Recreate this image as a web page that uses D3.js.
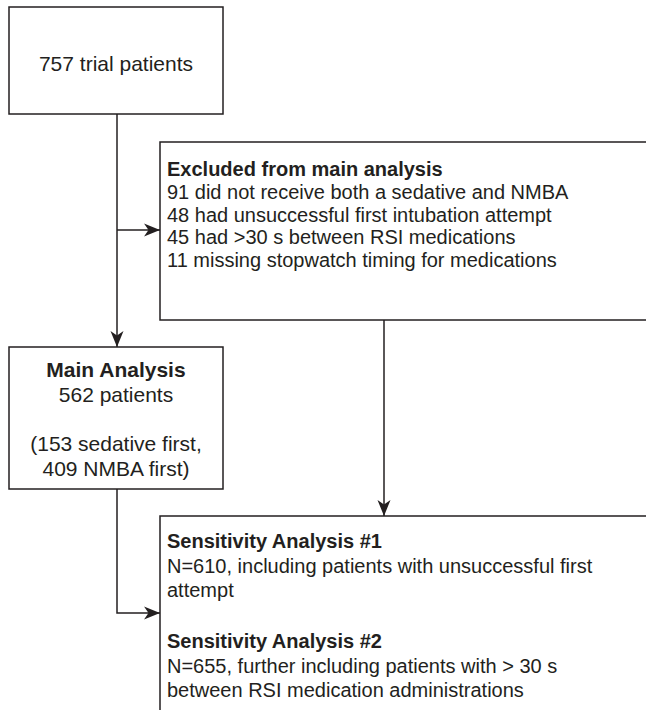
<!DOCTYPE html>
<html>
<head>
<meta charset="utf-8">
<script src="https://cdn.jsdelivr.net/npm/d3@7"></script>
<style>
  body { margin: 0; background: #fff; }
  svg text { font-family: "Liberation Sans", Arial, Helvetica, sans-serif; fill: #231f20; }
</style>
</head>
<body>
<div id="chart"></div>
<script>
// box texts
var trialLines = ["757 trial patients"];
var excludedTitle = "Excluded from main analysis";
var excludedLines = [
  "91 did not receive both a sedative and NMBA",
  "48 had unsuccessful first intubation attempt",
  "45 had >30 s between RSI medications",
  "11 missing stopwatch timing for medications"
];
var mainTitle = "Main Analysis";
var mainLines = ["562 patients", "", "(153 sedative first,", "409 NMBA first)"];
var sens1Title = "Sensitivity Analysis #1";
var sens1Lines = ["N=610, including patients with unsuccessful first", "attempt"];
var sens2Title = "Sensitivity Analysis #2";
var sens2Lines = ["N=655, further including patients with > 30 s", "between RSI medication administrations"];

var width = 646, height = 710;
var ink = "#231f20";

var svg = d3.select("#chart").append("svg")
    .attr("width", width)
    .attr("height", height);

svg.append("defs").append("marker")
    .attr("id", "arrow")
    .attr("viewBox", "-17 -7 18 14")
    .attr("refX", 0)
    .attr("refY", 0)
    .attr("markerUnits", "userSpaceOnUse")
    .attr("markerWidth", 18)
    .attr("markerHeight", 14)
    .attr("orient", "auto")
  .append("path")
    .attr("d", "M0,0 L-16,-6.5 L-11.5,0 L-16,6.5 Z")
    .attr("fill", ink);

// boxes (layout)
var boxes = [
  {x: 9,   y: 7,   w: 214, h: 107},
  {x: 160, y: 142, w: 500, h: 178},
  {x: 9,   y: 347, w: 214, h: 142},
  {x: 160, y: 516, w: 500, h: 210}
];

svg.selectAll("rect.box")
  .data(boxes)
  .enter().append("rect")
    .attr("class", "box")
    .attr("x", d => d.x)
    .attr("y", d => d.y)
    .attr("width", d => d.w)
    .attr("height", d => d.h)
    .attr("fill", "none")
    .attr("stroke", ink)
    .attr("stroke-width", 1.5);

// connectors
var line = d3.line();
var links = [
  [[117, 114], [117, 347]],
  [[117, 230], [160, 230]],
  [[384, 320], [384, 516]],
  [[117, 489], [117, 613], [160, 613]]
];
svg.selectAll("path.link")
  .data(links)
  .enter().append("path")
    .attr("class", "link")
    .attr("d", line)
    .attr("fill", "none")
    .attr("stroke", ink)
    .attr("stroke-width", 1.5)
    .attr("marker-end", "url(#arrow)");

var fsL = 21, fsR = 20;

// box 1
svg.append("text")
    .attr("x", 116).attr("y", 71)
    .attr("text-anchor", "middle")
    .style("font-size", fsL + "px")
    .text(trialLines[0]);

// box 2
var t2 = svg.append("text").attr("x", 167).attr("y", 176).style("font-size", fsR + "px");
t2.append("tspan").attr("x", 167).attr("font-weight", "bold").text(excludedTitle);
excludedLines.forEach(function(s) {
  t2.append("tspan").attr("x", 167).attr("dy", 22.8).text(s);
});

// box 3
var t3 = svg.append("text").attr("x", 116).attr("y", 377)
    .attr("text-anchor", "middle").style("font-size", fsL + "px");
t3.append("tspan").attr("x", 116).attr("font-weight", "bold").text(mainTitle);
mainLines.forEach(function(s) {
  t3.append("tspan").attr("x", 116).attr("dy", 24.8).text(s || "\u00a0");
});

// box 4
var t4 = svg.append("text").attr("x", 167).attr("y", 548).style("font-size", fsR + "px");
t4.append("tspan").attr("x", 167).attr("font-weight", "bold").text(sens1Title);
sens1Lines.forEach(function(s) {
  t4.append("tspan").attr("x", 167).attr("dy", 24.5).text(s);
});
t4.append("tspan").attr("x", 167).attr("dy", 51).attr("font-weight", "bold").text(sens2Title);
sens2Lines.forEach(function(s) {
  t4.append("tspan").attr("x", 167).attr("dy", 24.5).text(s);
});
</script>
</body>
</html>
